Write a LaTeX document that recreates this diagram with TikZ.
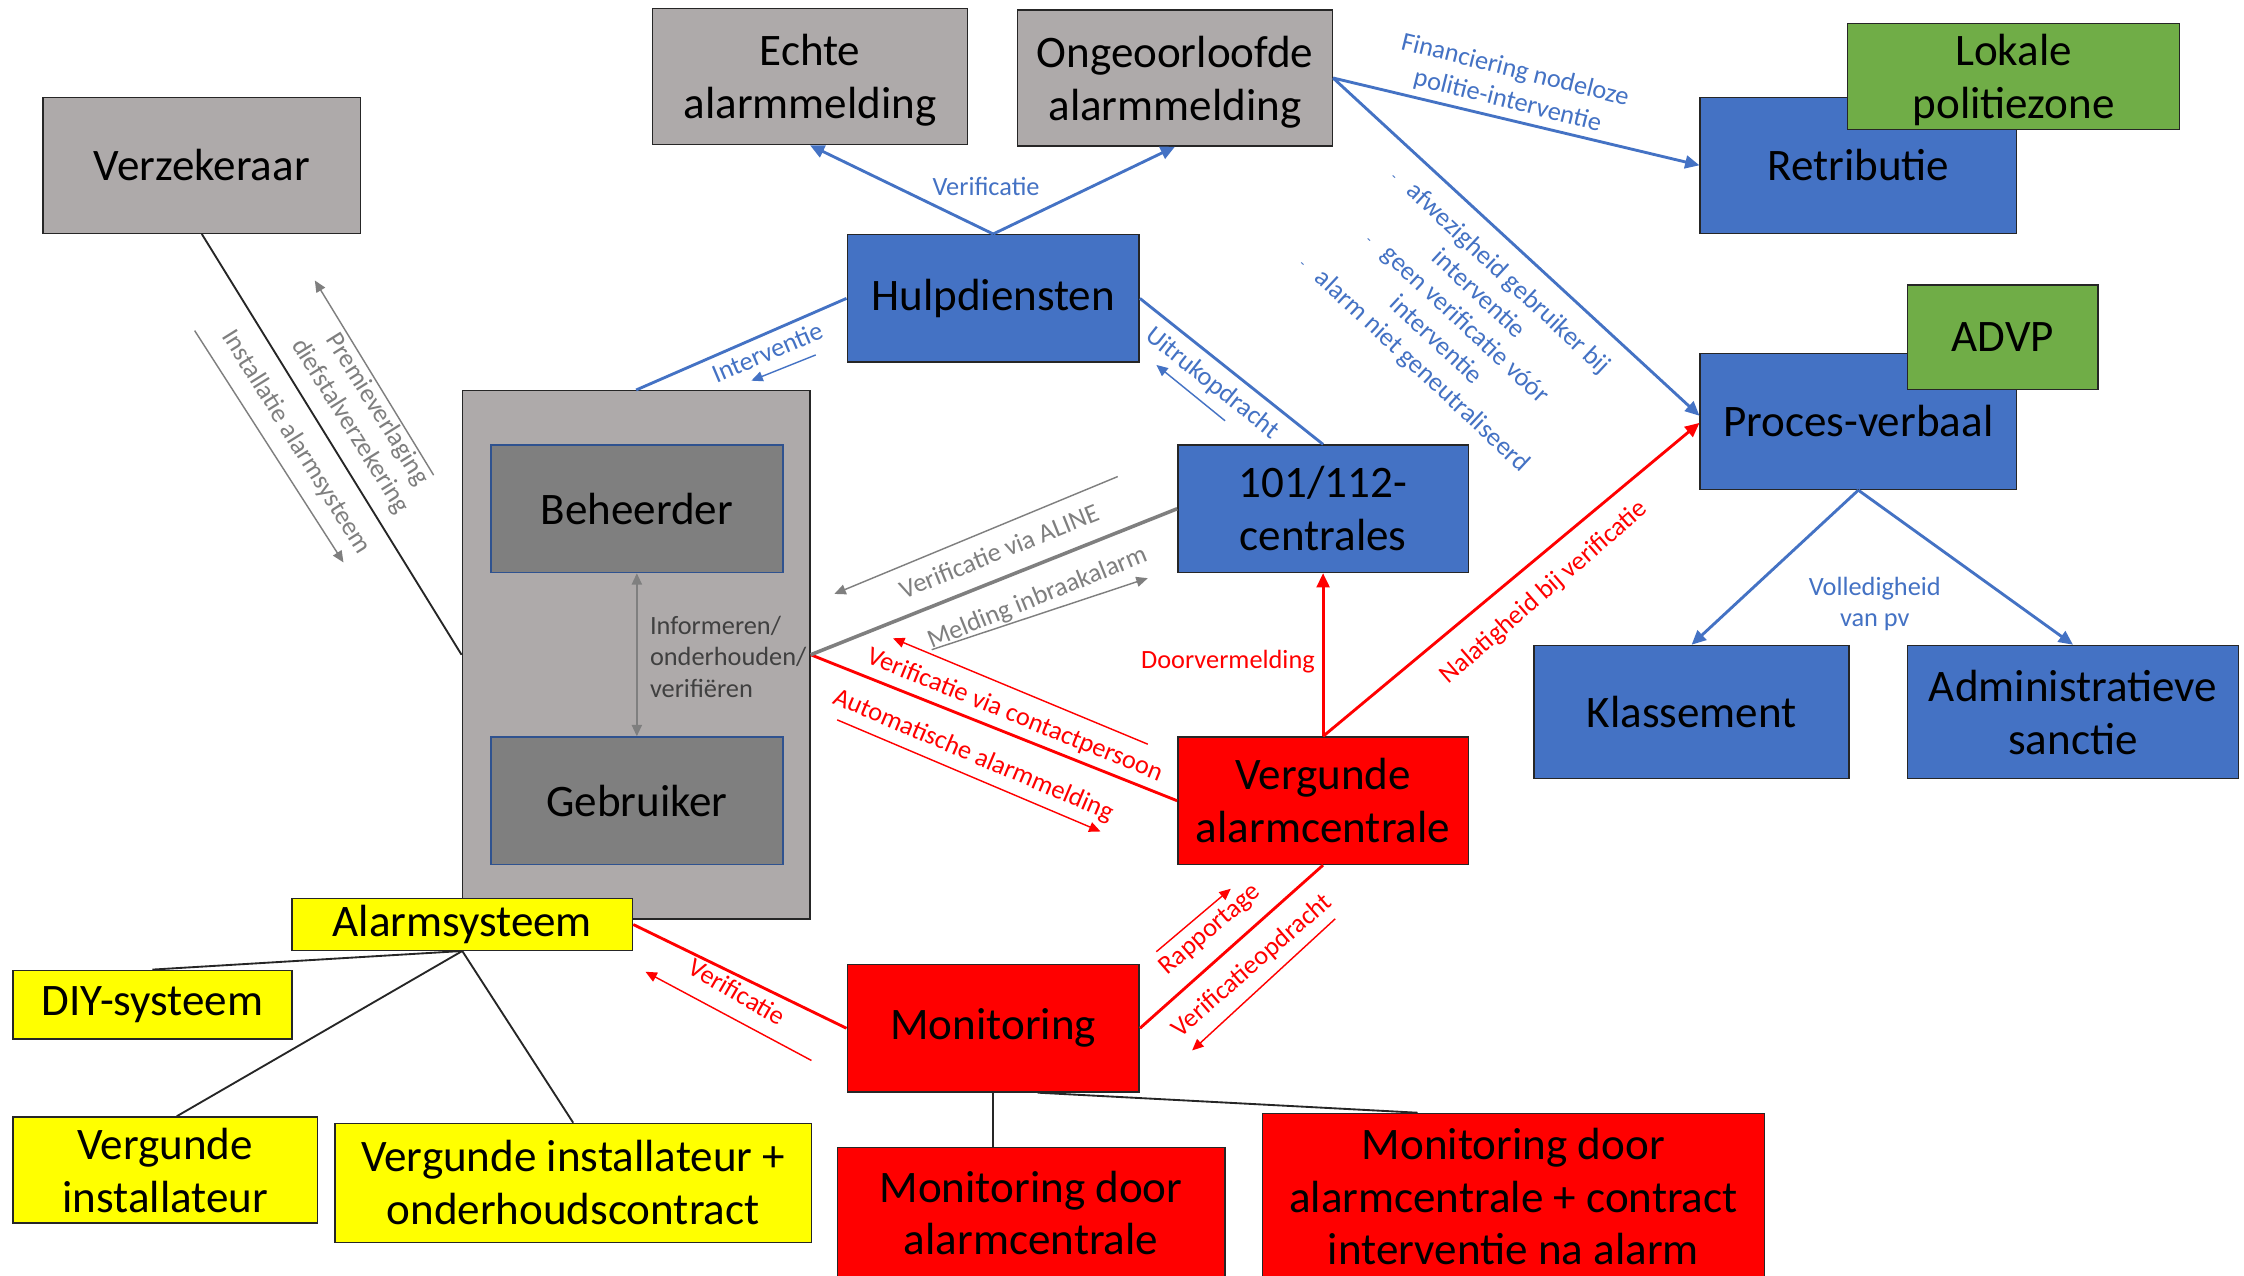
\documentclass[tikz,border=0pt]{standalone}
\usepackage{fontspec}
\setmainfont{Carlito}
\usetikzlibrary{arrows.meta,calc}
\definecolor{cblue}{HTML}{4472C4}
\definecolor{cbord}{HTML}{2F528F}
\definecolor{cred}{HTML}{FF0000}
\definecolor{cgreen}{HTML}{70AD47}
\definecolor{cyellow}{HTML}{FFFF00}
\definecolor{cgray}{HTML}{AEAAAA}
\definecolor{cdgray}{HTML}{7F7F7F}
\definecolor{cgtxt}{HTML}{7F7F7F}
\definecolor{cdtxt}{HTML}{404040}
\definecolor{cboxline}{HTML}{262626}
\newcommand\bxfont{\fontsize{31.5}{37}\selectfont}
\newcommand\lbfont{\fontsize{18.4}{22}\selectfont}
\newcommand\mlines[1]{\raisebox{-3.5pt}[\height][\depth]{\begin{tabular}{@{}c@{}}#1\end{tabular}}}
\tikzset{
  box/.style={draw=cboxline, line width=1pt, inner sep=0pt, font=\bxfont, text=black},
  graybox/.style={box, fill=cgray},
  bluebox/.style={box, fill=cblue},
  redbox/.style={box, fill=cred},
  greenbox/.style={box, fill=cgreen},
  yellowbox/.style={box, fill=cyellow},
  darkbox/.style={box, fill=cdgray, draw=cbord},
  lbl/.style={font=\lbfont, inner sep=0pt, align=center},
  blconn/.style={draw=cblue, line width=2pt},
  rdconn/.style={draw=cred, line width=2pt},
  grconn/.style={draw=cdgray, line width=2.5pt},
  bkconn/.style={draw=black!85, line width=1.3pt},
  tip/.style={-{Triangle[length=10pt,width=9pt]}},
  smalltip/.style={-{Triangle[length=8pt,width=7pt]}},
  thinarrow/.style={line width=1pt, smalltip},
}
\begin{document}
\begin{tikzpicture}[x=1pt,y=-1pt]
\useasboundingbox (0,0) rectangle (1568,891);
\clip (0,0) rectangle (1568,891);
\fill[white] (0,0) rectangle (1568,891);

% ---- boxes ----
\node[graybox, minimum width=222, minimum height=95] (verz) at (141,115.5) {Verzekeraar};
\node[graybox, minimum width=220, minimum height=95] (echte) at (566,53.5) {\mlines{Echte\\alarmmelding}};
\node[graybox, minimum width=220, minimum height=95] (ong) at (821,54.5) {\mlines{Ongeoorloofde\\alarmmelding}};
\node[bluebox, minimum width=221, minimum height=95] (retr) at (1298.5,115.5) {Retributie};
\node[greenbox, minimum width=232, minimum height=73] (lpz) at (1407,53.5) {\mlines{Lokale\\politiezone}};
\node[bluebox, minimum width=221, minimum height=95] (pv) at (1298.5,294.5) {Proces-verbaal};
\node[greenbox, minimum width=133, minimum height=73] (advp) at (1399.5,235.5) {ADVP};
\node[bluebox, minimum width=220, minimum height=93] (klas) at (1182,497.5) {Klassement};
\node[bluebox, minimum width=231, minimum height=93] (adm) at (1448.5,497.5) {\mlines{Administratieve\\sanctie}};
\node[bluebox, minimum width=204, minimum height=89] (hulp) at (694,208.5) {Hulpdiensten};
\node[bluebox, minimum width=203, minimum height=89] (c101) at (924.5,355.5) {\mlines{101/112-\\centrales}};
\node[redbox, minimum width=203, minimum height=89] (vac) at (924.5,559.5) {\mlines{Vergunde\\alarmcentrale}};
\node[redbox, minimum width=204, minimum height=89] (mon) at (694,718.5) {Monitoring};
\node[redbox, minimum width=271, minimum height=91] (mda) at (720.5,847.5) {\mlines{Monitoring door\\alarmcentrale}};
\node[redbox, minimum width=351, minimum height=116] (mdac) at (1057.5,836) {\mlines{Monitoring door\\alarmcentrale + contract\\interventie na alarm}};

\node[graybox, minimum width=243, minimum height=369] (cont) at (444.5,457.5) {};
\node[darkbox, minimum width=204, minimum height=89] (beh) at (445,355.5) {Beheerder};
\node[darkbox, minimum width=204, minimum height=89] (geb) at (445,559.5) {Gebruiker};

\node[yellowbox, minimum width=238, minimum height=36] (alarm) at (323,646) {Alarmsysteem};
\node[yellowbox, minimum width=195, minimum height=48] (diy) at (106.5,702) {DIY-systeem};
\node[yellowbox, minimum width=213, minimum height=65] (vi) at (115.5,817.5) {\mlines{Vergunde\\installateur}};
\node[yellowbox, minimum width=333, minimum height=83] (vio) at (400.5,826.5) {\mlines{Vergunde installateur +\\onderhoudscontract}};

% ---- main connectors ----
\draw[blconn, tip] (hulp.north) -- (echte.south);
\draw[blconn, tip] (hulp.north) -- (ong.south);
\draw[blconn] (hulp.west) -- (cont.north);
\draw[blconn] (hulp.east) -- (c101.north);
\draw[blconn, tip] (ong.east) -- (retr.west);
\draw[blconn, tip] (ong.east) -- ([yshift=4pt]pv.west);
\draw[blconn, tip] (pv.south) -- (klas.north);
\draw[blconn, tip] (pv.south) -- (adm.north);
\draw[rdconn, tip] (vac.north) -- (c101.south);
\draw[rdconn, tip] (vac.north) -- ([yshift=-1pt]pv.west);
\draw[rdconn] (cont.east) -- (vac.west);
\draw[grconn] (cont.east) -- (c101.west);
\draw[rdconn] (alarm.east) -- (mon.west);
\draw[rdconn] (mon.east) -- (vac.south);
\draw[bkconn] (verz.south) -- (cont.west);
\draw[draw=cdgray, line width=1.5pt, {Triangle[length=8pt,width=7pt]}-{Triangle[length=8pt,width=7pt]}] (beh.south) -- (geb.north);
\draw[bkconn] (alarm.south) -- (diy.north);
\draw[bkconn] (alarm.south) -- ([xshift=8pt]vi.north);
\draw[bkconn] (alarm.south) -- (vio.north);
\draw[bkconn] (mon.south) -- (mon.south |- mda.north);
\draw[bkconn] ([xshift=31pt]mon.south) -- ([xshift=-67pt]mdac.north);

% ---- small label arrows ----
\draw[cblue, thinarrow] (570,248) -- (525,266);
\draw[cblue, thinarrow] (856,294) -- (808,255);
\draw[cgtxt, thinarrow] (303,332) -- (220,196);
\draw[cgtxt, thinarrow] (136,231) -- (240,393);
\draw[cgtxt, thinarrow] (781,333) -- (583,415);
\draw[cgtxt, thinarrow] (651,454) -- (802,404);
\draw[cred, thinarrow] (802,520) -- (624,446);
\draw[cred, thinarrow] (585,503) -- (769,581);
\draw[cred, thinarrow] (567,741) -- (451,679);
\draw[cred, thinarrow] (808,665) -- (860,621);
\draw[cred, thinarrow] (933,642) -- (833,734);

% ---- labels ----
\node[lbl, text=cblue] (lverif) at (689,130) {Verificatie};
\node[lbl, text=cblue, rotate=23] (linterv) at (536,246) {Interventie};
\node[lbl, text=cblue, rotate=-38.5] (luitr) at (847,268) {Uitrukopdracht};
\node[lbl, text=cblue, rotate=-14] (lfin) at (1056,60) {Financiering nodeloze\\politie-interventie};
\node[lbl, text=cblue, rotate=-43] (llist) at (1018,222) {{\fontsize{10}{10}\selectfont-}\hspace{12pt}afwezigheid gebruiker bij\\interventie\\{\fontsize{10}{10}\selectfont-}\hspace{12pt}geen verificatie vóór\\interventie\\{\fontsize{10}{10}\selectfont-}\hspace{12pt}alarm niet geneutraliseerd};
\node[lbl, text=cblue] (lvol) at (1310,422) {Volledigheid\\van pv};
\node[lbl, text=cred] (ldoor) at (858,462) {Doorvermelding};
\node[lbl, text=cred, rotate=41] (lnal) at (1079,414) {Nalatigheid bij verificatie};
\node[lbl, text=cgtxt, rotate=22] (laline) at (698,385) {Verificatie via ALINE};
\node[lbl, text=cgtxt, rotate=22] (lmeld) at (725,418) {Melding inbraakalarm};
\node[lbl, text=cred, rotate=-22] (lcontact) at (709,500) {Verificatie via contactpersoon};
\node[lbl, text=cred, rotate=-23] (lauto) at (680,528) {Automatische alarmmelding};
\node[lbl, text=cred, rotate=-30] (lverif2) at (515,693) {Verificatie};
\node[lbl, text=cred, rotate=41] (lrapp) at (846,650) {Rapportage};
\node[lbl, text=cred, rotate=41] (lvopd) at (875,675) {Verificatieopdracht};
\node[lbl, text=cgtxt, rotate=-58] (lprem) at (254,292) {Premieverlaging\\diefstalverzekering};
\node[lbl, text=cgtxt, rotate=-58] (linst) at (207,309) {Installatie alarmsysteem};
\node[lbl, text=cdtxt, align=left, anchor=west] (linfo) at (454,459) {Informeren/\\onderhouden/\\verifiëren};
\end{tikzpicture}
\end{document}
